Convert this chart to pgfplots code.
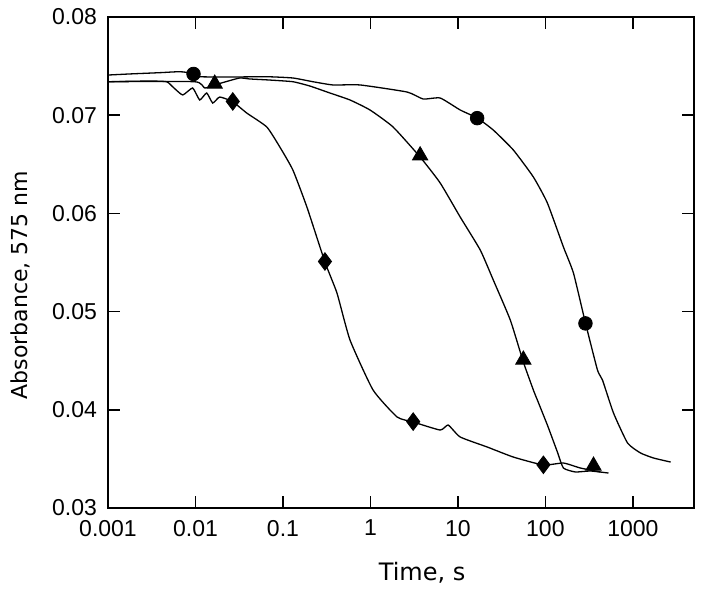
\documentclass[border=0pt]{standalone}
\usepackage{fontspec}
\setmainfont{Liberation Sans}
\newfontfamily\labelfont{DejaVu Sans}
\usepackage{pgfplots}
\pgfplotsset{compat=1.18}

\begin{document}
\begin{tikzpicture}
\begin{axis}[
    name=ax,
    scale only axis,
    width=293pt,
    height=245.5pt,
    xmode=log,
    xmin=0.001, xmax=5000,
    ymin=0.03, ymax=0.08,
    xtick={0.001,0.01,0.1,1,10,100,1000},
    xticklabels={0.001,0.01,0.1,1,10,100,1000},
    ytick={0.03,0.04,0.05,0.06,0.07,0.08},
    yticklabels={0.03,0.04,0.05,0.06,0.07,0.08},
    scaled y ticks=false,
    xminorticks=false,
    tick align=inside,
    major tick length=6pt,
    axis line style={line width=0.85pt},
    every tick/.style={line width=0.85pt, black},
    ticklabel style={font=\fontsize{11.5}{13}\selectfont},
    xticklabel style={yshift=-2.5pt},
    yticklabel style={xshift=-2pt},
    xlabel={Time, s},
    ylabel={Absorbance, 575 nm},
    every axis x label/.style={at={(axis description cs:0.536,-0.132)}, anchor=center, font=\labelfont\fontsize{12}{14}\selectfont},
    every axis y label/.style={at={(axis description cs:-0.15,0.454)}, rotate=90, anchor=center, font=\labelfont\fontsize{11}{13}\selectfont},
    clip=false,
]

% circle series (slowest)
\addplot[black, line width=0.65pt, smooth, tension=0.3] coordinates {
    (0.001,0.07409) (0.001762,0.07420) (0.003890,0.07433) (0.006592,0.07443)
    (0.009288,0.07427) (0.011169,0.07392) (0.026676,0.07389) (0.065386,0.07392)
    (0.12984,0.07379) (0.22006,0.07341) (0.37285,0.07308) (0.76000,0.07308)
    (2.6257,0.07236) (4.0041,0.07165) (6.2705,0.07175) (10.625,0.07053)
    (16.643,0.06971) (25.375,0.06849) (42.99,0.06646) (72.86,0.06371)
    (105.4,0.06106) (160.8,0.05658) (209.3,0.05393) (287.2,0.04884)
    (394.0,0.04405) (449.7,0.04303) (600.9,0.03967) (869.6,0.03662)
    (1225,0.03560) (1726,0.03509) (2703,0.03468)
};

% triangle series
\addplot[black, line width=0.65pt, smooth, tension=0.3] coordinates {
    (0.001,0.07341) (0.00979,0.07341) (0.012747,0.07277) (0.016596,0.07308)
    (0.021601,0.07338) (0.032087,0.07379) (0.041759,0.07369) (0.070770,0.07358)
    (0.12984,0.07341) (0.20324,0.07297) (0.34443,0.07226) (0.58398,0.07155)
    (0.98946,0.07053) (1.8151,0.06880) (3.7001,0.06574) (6.2705,0.06310)
    (10.625,0.05963) (18.012,0.05627) (25.375,0.05322) (39.72,0.04914)
    (55.98,0.04487) (72.86,0.04202) (80.95,0.04100) (105.4,0.03845)
    (137.2,0.03570) (160.8,0.03407) (220.6,0.03367) (327.7,0.03377)
    (526.8,0.03356)
};

% diamond series (fastest)
\addplot[black, line width=0.65pt, smooth, tension=0.3] coordinates {
    (0.001,0.07341) (0.002988,0.07348) (0.004679,0.07341) (0.005480,0.07290)
    (0.007135,0.07206) (0.009288,0.07277) (0.011169,0.07155) (0.013436,0.07226)
    (0.015740,0.07124) (0.018927,0.07185) (0.026676,0.07137) (0.038596,0.07022)
    (0.065386,0.06880) (0.092141,0.06676) (0.12984,0.06442) (0.18785,0.06065)
    (0.30200,0.05505) (0.41448,0.05189) (0.58398,0.04711) (1.0710,0.04202)
    (2.0167,0.03927) (3.0761,0.03876) (6.2705,0.03794) (7.7443,0.03845)
    (10.625,0.03723) (21.656,0.03621) (42.99,0.03519) (94.86,0.03438)
    (160.8,0.03458) (251.7,0.03407) (426.6,0.03367)
};

% markers
\addplot[only marks, mark=*, mark size=3.4pt, black] coordinates {
    (0.0095,0.0742) (16.6,0.0697) (287,0.0488)
};
\addplot[only marks, mark=triangle*, mark size=4.4pt, black] coordinates {
    (0.0166,0.0732) (3.70,0.0659) (56.0,0.0451) (355,0.0343)
};
\addplot[only marks, mark=diamond*, mark size=4.4pt, black] coordinates {
    (0.0267,0.0714) (0.302,0.0551) (3.08,0.0388) (94.9,0.0344)
};

\end{axis}
\path (ax.south west) ++(-54pt,-41pt) rectangle ++(352.5pt,295pt);
\end{tikzpicture}
\end{document}
